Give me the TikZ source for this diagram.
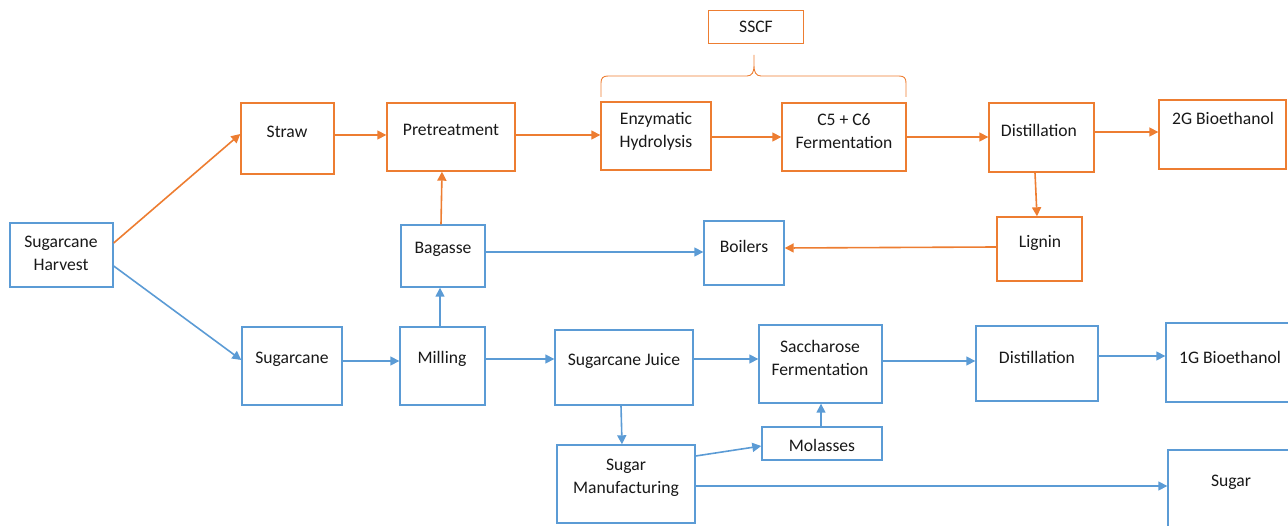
\documentclass[tikz,border=0pt]{standalone}
\usepackage{fontspec}
\setmainfont{Carlito}
\usetikzlibrary{arrows.meta}
\definecolor{oor}{HTML}{ED7D31}
\definecolor{obl}{HTML}{5B9BD5}
\newcommand\mybox[6]{\node[#1,minimum width={#4-#2},minimum height={#5-#3}] (#6) at ({(#2+#4)/2},{(#3+#5)/2}) {};}
\tikzset{
  obox/.style={draw=oor,line width=1.4pt,inner sep=0pt,fill=white},
  bbox/.style={draw=obl,line width=1.4pt,inner sep=0pt,fill=white},
  txt/.style={inner sep=0pt,align=center,text=black!90,font=\fontsize{17.6}{23}\selectfont},
  oarr/.style={draw=oor,line width=1.6pt,-{Triangle[length=9pt,width=9pt]}},
  barr/.style={draw=obl,line width=1.6pt,-{Triangle[length=9pt,width=9pt]}},
}
\begin{document}
\begin{tikzpicture}[x=1pt,y=-1pt]
\useasboundingbox (0,0) rectangle (1288,526);
\clip (0,0) rectangle (1288,526);
% boxes
\mybox{bbox}{10}{223}{113}{287}{hb}
\mybox{obox}{241}{103}{334}{174}{straw}
\mybox{obox}{387}{103}{515}{171}{pre}
\mybox{bbox}{401}{225}{485}{287}{bag}
\mybox{obox}{601}{102}{711}{170}{enz}
\mybox{obox}{782}{103}{906}{171}{cf}
\mybox{obox}{989}{103}{1094}{172}{dist}
\mybox{obox}{1159}{100}{1286}{169}{gtwo}
\mybox{obox}{997}{217}{1082}{281}{lig}
\mybox{bbox}{704}{221}{784}{285}{boil}
\mybox{bbox}{242}{327}{342}{405}{cane}
\mybox{bbox}{400}{327}{485}{405}{mill}
\mybox{bbox}{555}{330}{693}{405}{juice}
\mybox{bbox}{759}{325}{882}{403}{sacch}
\mybox{bbox}{557}{445}{695}{523}{sman}
\mybox{bbox}{762}{427}{882}{460}{mol}
\mybox{bbox}{976}{326}{1098}{401}{dtwo}
\mybox{bbox}{1166}{323}{1300}{402}{gone}
\mybox{bbox}{1168}{450}{1300}{540}{sugar}
\node[draw=oor,line width=0.9pt,minimum width=95,minimum height=33,inner sep=0pt] (sscf) at (755.5,26.5) {};
% texts
\node[txt] (thb) at (61,253.5) {Sugarcane\\Harvest};
\node[txt] (tstraw) at (287,132) {Straw};
\node[txt] (tpre) at (451,130) {Pretreatment};
\node[txt] (tbag) at (443,249) {Bagasse};
\node[txt] (tsscf) at (756,27) {SSCF};
\node[txt] (tenz) at (656,131.5) {Enzymatic\\Hydrolysis};
\node[txt] (tcf) at (844,131.5) {C5 + C6\\Fermentation};
\node[txt] (tboil) at (744,246) {Boilers};
\node[txt] (tdist) at (1039,130) {Distillation};
\node[txt] (tgtwo) at (1223,118) {2G Bioethanol};
\node[txt] (tlig) at (1040,243) {Lignin};
\node[txt] (tcane) at (292,359) {Sugarcane};
\node[txt] (tmill) at (442,359) {Milling};
\node[txt] (tjuice) at (624,361) {Sugarcane Juice};
\node[txt] (tsacch) at (820,357.5) {Saccharose\\Fermentation};
\node[txt] (tsman) at (626,478) {Sugar\\Manufacturing};
\node[txt] (tmol) at (822,445) {Molasses};
\node[txt] (tdtwo) at (1037,357) {Distillation};
\node[txt] (tgone) at (1230,357) {1G Bioethanol};
\node[txt] (tsugar) at (1231,482) {Sugar};
% brace
\draw[oor,line width=0.9pt] (601,97) -- (601,83) .. controls (601,78) and (603,76) .. (608,76) -- (747,76)
  .. controls (752,76) and (754,72) .. (754,66) -- (754,55)
  (754,66) .. controls (754,72) and (756,76) .. (761,76) -- (899,76)
  .. controls (904,76) and (906,78) .. (906,83) -- (906,97);
% orange connectors
\draw[oarr] (hb.east |- 0,243) -- (straw.west |- 0,134);
\draw[oarr] (straw.east |- 0,135) -- (pre.west |- 0,135);
\draw[oarr] (bag.north -| 441,0) -- (pre.south -| 442,0);
\draw[oarr] (pre.east |- 0,135) -- (enz.west |- 0,135);
\draw[oarr] (enz.east |- 0,137) -- (cf.west |- 0,137);
\draw[oarr] (cf.east |- 0,137) -- (dist.west |- 0,137);
\draw[oarr] (dist.east |- 0,132) -- (gtwo.west |- 0,132);
\draw[oarr] (dist.south -| 1035,0) -- (lig.north -| 1037,0);
\draw[oarr] (lig.west |- 0,247) -- (boil.east |- 0,248);
% blue connectors
\draw[barr] (hb.east |- 0,266) -- (cane.west |- 0,360);
\draw[barr] (bag.east |- 0,252) -- (boil.west |- 0,252);
\draw[barr] (cane.east |- 0,361) -- (mill.west |- 0,361);
\draw[barr] (mill.north -| 440,0) -- (bag.south -| 440,0);
\draw[barr] (mill.east |- 0,359) -- (juice.west |- 0,359);
\draw[barr] (juice.east |- 0,359) -- (sacch.west |- 0,359);
\draw[barr] (juice.south -| 621,0) -- (sman.north -| 622,0);
\draw[barr] (sman.east |- 0,456) -- (mol.west |- 0,446);
\draw[barr] (mol.north -| 821,0) -- (sacch.south -| 821,0);
\draw[barr] (sacch.east |- 0,361) -- (dtwo.west |- 0,361);
\draw[barr] (dtwo.east |- 0,356) -- (gone.west |- 0,356);
\draw[barr] (sman.east |- 0,486) -- (sugar.west |- 0,486);
\end{tikzpicture}
\end{document}
